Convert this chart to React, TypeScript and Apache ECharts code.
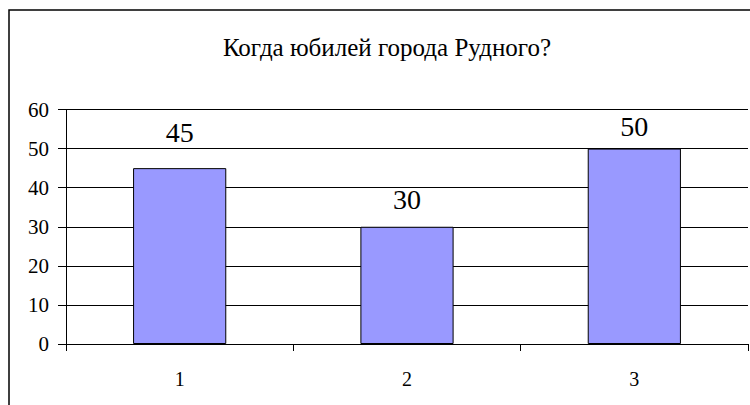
import React, { useEffect, useRef } from "react";
import * as echarts from "echarts";

const categories = ["1", "2", "3"];
const values = [45, 30, 50];
const titleText = "Когда юбилей города Рудного?";
const yMin = 0;
const yMax = 60;
const yInterval = 10;

// label placement (styling only), distance above each bar in px
const labelDistances = [22, 13, 8];

const FONT = "Liberation Serif, Times New Roman, serif";

export default function App() {
  const ref = useRef<HTMLDivElement>(null);
  useEffect(() => {
    if (!ref.current) return;
    const chart = echarts.init(ref.current, null, { renderer: "svg" });
    chart.setOption({
      animation: false,
      textStyle: { fontFamily: FONT },
      graphic: [
        {
          type: "text",
          x: 387,
          y: 47,
          style: {
            text: titleText,
            font: "25px " + FONT,
            fill: "#000",
            align: "center",
            verticalAlign: "middle",
          },
        },
        {
          type: "rect",
          shape: { x: 9, y: 10, width: 800, height: 500 },
          style: { fill: "none", stroke: "#000", lineWidth: 1.5 },
          z: 100,
        },
      ],
      grid: { left: 66, right: 2, top: 109.5, bottom: 61 },
      xAxis: {
        type: "category",
        data: categories,
        axisLine: { lineStyle: { color: "#000", width: 1 } },
        axisTick: { show: true, length: 7, lineStyle: { color: "#000" } },
        axisLabel: { fontFamily: FONT, fontSize: 20, color: "#000", margin: 25 },
      },
      yAxis: {
        type: "value",
        min: yMin,
        max: yMax,
        interval: yInterval,
        axisLine: { show: true, lineStyle: { color: "#000", width: 1 } },
        axisTick: { show: true, length: 8, lineStyle: { color: "#000" } },
        axisLabel: { fontFamily: FONT, fontSize: 21, color: "#000", margin: 17 },
        splitLine: { show: true, lineStyle: { color: "#000", width: 1 } },
      },
      series: [
        {
          type: "bar",
          data: values.map((v, i) => ({
            value: v,
            label: { distance: labelDistances[i] },
          })),
          barWidth: "41%",
          itemStyle: { color: "#9999FF", borderColor: "#000", borderWidth: 1 },
          label: {
            show: true,
            position: "top",
            fontFamily: FONT,
            fontSize: 28,
            color: "#000",
          },
        },
      ],
    });
    return () => chart.dispose();
  }, []);
  return (
    <div
      ref={ref}
      style={{ position: "absolute", left: 0, top: 0, width: 750, height: 405 }}
    />
  );
}
